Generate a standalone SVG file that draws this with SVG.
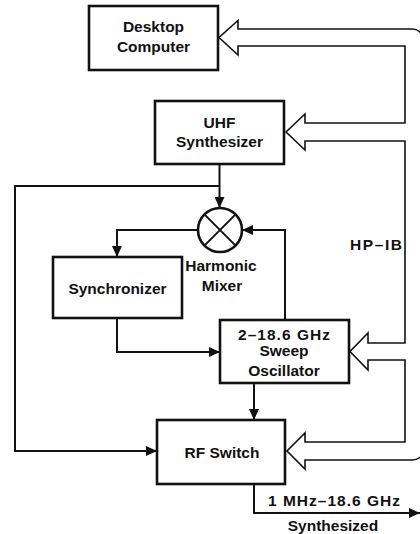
<svg xmlns="http://www.w3.org/2000/svg" width="420" height="534" viewBox="0 0 420 534">
<defs>
<style>
.box{fill:#fff;stroke:#111;stroke-width:2.6}
.t{font-family:"Liberation Sans",Arial,sans-serif;font-weight:bold;font-size:15.5px;fill:#111;text-anchor:middle}
.c{fill:none;stroke:#111;stroke-width:2}
.bus{fill:none;stroke:#111;stroke-width:1.6;stroke-linejoin:miter}
</style>
<marker id="ah" markerUnits="userSpaceOnUse" markerWidth="12" markerHeight="10" refX="11" refY="5" orient="auto">
<path d="M0,0 L11,5 L0,10 Z" fill="#111"/>
</marker>
</defs>
<rect width="420" height="534" fill="#fff"/>
<g id="connectors">
<path class="bus" d="M423,37 Q420,29 412,29 H238 V20.5 L219,37.5 L238,55 V46 H405 V123 H305 V114 L286,132 L305,150 V141 H405 V343 H368 V333 L350,351.5 L368,370 V360 H405 V442 H305 V433 L287,451 L305,469 V460 H412 Q420,460 423,453"/>
<path class="c" d="M219.5,164 V208" marker-end="url(#ah)"/>
<path class="c" d="M219.5,186 H15 V451 H157" marker-end="url(#ah)"/>
<path class="c" d="M198,230 H117 V257" marker-end="url(#ah)"/>
<path class="c" d="M285,320 V230 H242" marker-end="url(#ah)"/>
<path class="c" d="M117,318 V352 H220" marker-end="url(#ah)"/>
<path class="c" d="M254,383 V420" marker-end="url(#ah)"/>
<path class="c" d="M254,484 V513 H420" marker-end="url(#ah)"/>
</g>
<g id="desktop">
<rect class="box" x="89" y="6" width="129" height="64"/>
<text class="t" x="153.5" y="32">Desktop</text>
<text class="t" x="153.5" y="52">Computer</text>
</g>
<g id="uhf">
<rect class="box" x="155" y="101" width="129" height="63"/>
<text class="t" x="219.5" y="128">UHF</text>
<text class="t" x="219.5" y="147">Synthesizer</text>
</g>
<g id="mixer">
<circle cx="220" cy="230" r="22" fill="#fff" stroke="#111" stroke-width="2.6"/>
<path d="M204.4,214.4 L235.6,245.6 M235.6,214.4 L204.4,245.6" stroke="#111" stroke-width="2"/>
<text class="t" x="221" y="271">Harmonic</text>
<text class="t" x="222" y="291">Mixer</text>
</g>
<g id="synchronizer">
<rect class="box" x="53" y="257" width="129" height="61"/>
<text class="t" x="117.5" y="294">Synchronizer</text>
</g>
<g id="sweep">
<rect class="box" x="220" y="320" width="129" height="63"/>
<text class="t" x="284" y="340" textLength="92" lengthAdjust="spacing">2–18.6 GHz</text>
<text class="t" x="284" y="356">Sweep</text>
<text class="t" x="284" y="376">Oscillator</text>
</g>
<g id="rfswitch">
<rect class="box" x="157" y="420" width="128" height="64"/>
<text class="t" x="222" y="458">RF Switch</text>
</g>
<g id="labels">
<text class="t" x="376" y="250" textLength="52" lengthAdjust="spacing">HP–IB</text>
<text class="t" x="334" y="506" textLength="132" lengthAdjust="spacing">1 MHz–18.6 GHz</text>
<text class="t" x="333" y="531">Synthesized</text>
</g>
</svg>
